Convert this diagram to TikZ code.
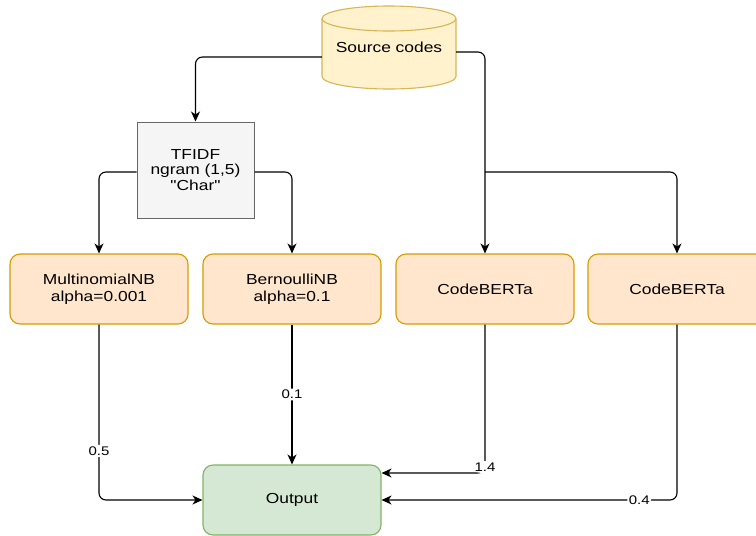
\documentclass[tikz,border=0pt]{standalone}
\usepackage{fontspec}
\setmainfont{Liberation Sans}[FakeStretch=1.2, Ligatures=TeXOff]
\usetikzlibrary{arrows.meta}
\definecolor{orfill}{HTML}{FFE6CC}
\definecolor{ordraw}{HTML}{D79B00}
\definecolor{grfill}{HTML}{D5E8D4}
\definecolor{grdraw}{HTML}{82B366}
\definecolor{gyfill}{HTML}{F5F5F5}
\definecolor{gydraw}{HTML}{666666}
\definecolor{ylfill}{HTML}{FFF2CC}
\definecolor{yldraw}{HTML}{D6B656}
\tikzset{
  box/.style={draw=ordraw, fill=orfill, line width=1.1pt, rounded corners=10pt,
    minimum width=178pt, minimum height=70pt, align=center,
    font=\fontsize{14.5}{16.5}\selectfont},
  outbox/.style={box, draw=grdraw, fill=grfill},
  tfbox/.style={draw=gydraw, fill=gyfill, line width=1pt, minimum width=117pt,
    minimum height=96pt, align=center, font=\fontsize{14.5}{15.5}\selectfont},
  conn/.style={line width=1.1pt, rounded corners=7pt,
    -{Stealth[length=10pt,width=9pt,inset=3pt]}},
  lbl/.style={fill=white, inner sep=1.5pt, font=\fontsize{12.5}{14}\selectfont}
}
\begin{document}
\begin{tikzpicture}[x=1pt,y=-1pt]
\useasboundingbox (0,0) rectangle (756,536);
% cylinder
\draw[draw=yldraw, fill=ylfill, line width=1.1pt]
  (322,18.5) -- (322,76.5) arc (180:0:67 and 12.5) -- (456,18.5)
  arc (360:180:67 and 12.5) -- cycle;
\draw[draw=yldraw, line width=1.1pt] (322,18.5) arc (180:0:67 and 12.5);
\node[minimum width=134pt, minimum height=83pt, inner sep=0pt,
  font=\fontsize{14.5}{16.5}\selectfont] (src) at (389,47.5) {Source codes};

\node[tfbox] (tf) at (195.5,170) {TFIDF\\ngram (1,5)\\"Char"};

\node[box] (mnb) at (99,289) {MultinomialNB\\alpha=0.001};
\node[box] (bnb) at (292,289) {BernoulliNB\\alpha=0.1};
\node[box] (cb1) at (485,289) {CodeBERTa};
\node[box] (cb2) at (677,289) {CodeBERTa};
\node[outbox] (out) at (292,500) {Output};

\coordinate (br) at (cb1.north |- 0,172);

\draw[conn] ([yshift=-9.5pt]src.west) -| (tf.north);
\draw[conn] ([yshift=-4.5pt]src.east) -| (cb1.north);
\draw[conn] (br) -| (cb2.north);
\draw[conn] ([yshift=-2pt]tf.west) -| (mnb.north);
\draw[conn] ([yshift=-2pt]tf.east) -| (bnb.north);

\draw[conn] (mnb.south) |- node[lbl, pos=0.36] {0.5} (out.west);
\draw[conn] (bnb.south) -- node[lbl, pos=0.5] {0.1} (out.north);
\draw[conn] (cb1.south) |- node[lbl, pos=0.5, yshift=6pt] {1.4} ([yshift=27pt]out.east);
\draw[conn] (cb2.south) |- node[lbl, pos=0.564] {0.4} (out.east);
\end{tikzpicture}
\end{document}
